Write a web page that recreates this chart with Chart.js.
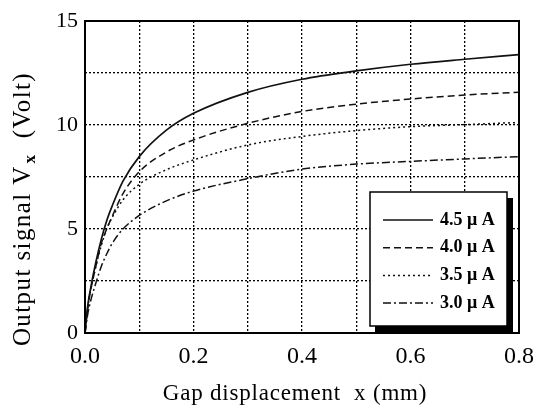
<!DOCTYPE html>
<html>
<head>
<meta charset="utf-8">
<script src="https://cdn.jsdelivr.net/npm/chart.js@4/dist/chart.umd.min.js"></script>
<style>
html,body{margin:0;padding:0;background:#fff;}
#wrap{width:535px;height:412px;}
</style>
</head>
<body>
<div id="wrap"><canvas id="c" width="535" height="412"></canvas></div>
<script>
const xs = [0, 0.005, 0.01, 0.02, 0.03, 0.04, 0.05, 0.07, 0.1, 0.15, 0.2, 0.3, 0.4, 0.5, 0.6, 0.7, 0.8];
const seriesLabels = ['4.5 \u03bc A', '4.0 \u03bc A', '3.5 \u03bc A', '3.0 \u03bc A'];
const v45 = [0, 1.3, 2.1, 3.4, 4.5, 5.4, 6.1, 7.3, 8.48, 9.75, 10.56, 11.57, 12.2, 12.6, 12.92, 13.16, 13.38];
const v40 = [0, 1.2, 2.0, 3.2, 4.3, 5.0, 5.6, 6.7, 7.75, 8.7, 9.28, 10.08, 10.65, 11.0, 11.25, 11.44, 11.58];
const v35 = [0, 1.2, 2.0, 3.2, 4.2, 5.0, 5.55, 6.4, 7.15, 7.85, 8.32, 9.04, 9.45, 9.73, 9.92, 10.02, 10.12];
const v30 = [0, 0.9, 1.5, 2.4, 3.2, 3.8, 4.3, 5.0, 5.65, 6.35, 6.82, 7.42, 7.88, 8.12, 8.25, 8.37, 8.48];
const xTickLabels = ['0.0', '0.2', '0.4', '0.6', '0.8'];
const yTickLabels = ['0', '5', '10', '15'];
const xTitle = 'Gap displacement  x (mm)';
const yTitleParts = ['Output signal V', 'x', '  (Volt)'];

const dashes = [[], [7, 4], [2, 3], [8, 3, 2, 3]];
const allVals = [v45, v40, v35, v30];

const datasets = allVals.map((vals, i) => ({
  label: seriesLabels[i],
  data: xs.map((x, j) => ({x: x, y: vals[j]})),
  borderColor: '#111',
  borderWidth: i === 0 ? 1.7 : 1.5,
  borderDash: dashes[i],
  pointRadius: 0,
  fill: false,
  tension: 0.4,
  cubicInterpolationMode: 'monotone'
}));

const serif = "'Liberation Serif', 'DejaVu Serif', serif";

const framePlugin = {
  id: 'frame',
  afterDatasetsDraw(chart) {
    const ctx = chart.ctx;
    const a = chart.chartArea;
    ctx.save();
    ctx.setLineDash([]);
    ctx.strokeStyle = '#000';
    ctx.lineWidth = 2;
    ctx.strokeRect(a.left, a.top, a.right - a.left, a.bottom - a.top);

    // legend box with shadow
    const bx = 370, by = 192, bw = 137, bh = 134;
    ctx.fillStyle = '#000';
    ctx.fillRect(bx + bw, by + 6, 6, bh);
    ctx.fillRect(bx + 5, by + bh, bw + 1, 7);
    ctx.fillStyle = '#fff';
    ctx.fillRect(bx, by, bw, bh);
    ctx.lineWidth = 1.5;
    ctx.strokeStyle = '#000';
    ctx.strokeRect(bx, by, bw, bh);
    const ds = chart.data.datasets;
    ctx.font = "bold 18px " + serif;
    ctx.textBaseline = 'middle';
    ctx.textAlign = 'left';
    for (let i = 0; i < ds.length; i++) {
      const y = 220 + i * 27.7;
      ctx.beginPath();
      ctx.setLineDash(ds[i].borderDash);
      ctx.lineWidth = ds[i].borderWidth;
      ctx.strokeStyle = ds[i].borderColor;
      ctx.moveTo(383, y);
      ctx.lineTo(433, y);
      ctx.stroke();
      ctx.setLineDash([]);
      ctx.fillStyle = '#000';
      ctx.fillText(ds[i].label, 440, y);
    }

    // x axis title
    ctx.fillStyle = '#000';
    ctx.font = "23px " + serif;
    ctx.letterSpacing = '0.8px';
    ctx.textAlign = 'center';
    ctx.textBaseline = 'middle';
    ctx.fillText(xTitle, 295, 394);

    // y axis title with subscript
    ctx.textAlign = 'left';
    ctx.translate(23, 209);
    ctx.rotate(-Math.PI / 2);
    ctx.letterSpacing = '1.4px';
    const f1 = "25px " + serif;
    const f2 = "bold 17px " + serif;
    const [t1, t2, t3] = yTitleParts;
    ctx.font = f1; const w1 = ctx.measureText(t1).width; const w3 = ctx.measureText(t3).width;
    ctx.font = f2; const w2 = ctx.measureText(t2).width;
    let sx = -(w1 + w2 + 2 + w3) / 2;
    ctx.font = f1; ctx.fillText(t1, sx, 0); sx += w1 + 2;
    ctx.font = f2; ctx.fillText(t2, sx, 8); sx += w2;
    ctx.font = f1; ctx.fillText(t3, sx, 0);
    ctx.restore();
  }
};

new Chart(document.getElementById('c'), {
  type: 'line',
  data: { datasets: datasets },
  plugins: [framePlugin],
  options: {
    responsive: false,
    animation: false,
    devicePixelRatio: 1,
    layout: { padding: { left: 0, right: 16, top: 21, bottom: 0 } },
    plugins: { legend: { display: false }, tooltip: { enabled: false } },
    scales: {
      x: {
        type: 'linear',
        min: 0, max: 0.8,
        afterFit(s) { s.height = 79; s.paddingRight = 0; s.paddingLeft = 0; },
        afterBuildTicks(s) {
          s.ticks = [0, 0.1, 0.2, 0.3, 0.4, 0.5, 0.6, 0.7, 0.8].map(v => ({value: v}));
        },
        ticks: {
          color: '#000',
          font: { family: serif, size: 24 },
          padding: 9,
          maxRotation: 0,
          autoSkip: false,
          callback(v) {
            const k = Math.round(v * 10);
            return k % 2 === 0 ? xTickLabels[k / 2] : '';
          }
        },
        grid: { color: '#000', lineWidth: 1.3, drawTicks: false },
        border: { display: false, dash: [2, 2] }
      },
      y: {
        type: 'linear',
        min: 0, max: 15,
        afterFit(s) { s.width = 85; s.paddingTop = 0; s.paddingBottom = 0; },
        afterBuildTicks(s) {
          s.ticks = [0, 2.5, 5, 7.5, 10, 12.5, 15].map(v => ({value: v}));
        },
        ticks: {
          color: '#000',
          font: { family: serif, size: 22 },
          padding: 7,
          autoSkip: false,
          callback(v) {
            const k = Math.round(v / 2.5);
            return k % 2 === 0 ? yTickLabels[k / 2] : '';
          }
        },
        grid: { color: '#000', lineWidth: 1.3, drawTicks: false },
        border: { display: false, dash: [2, 2] }
      }
    }
  }
});
</script>
</body>
</html>
